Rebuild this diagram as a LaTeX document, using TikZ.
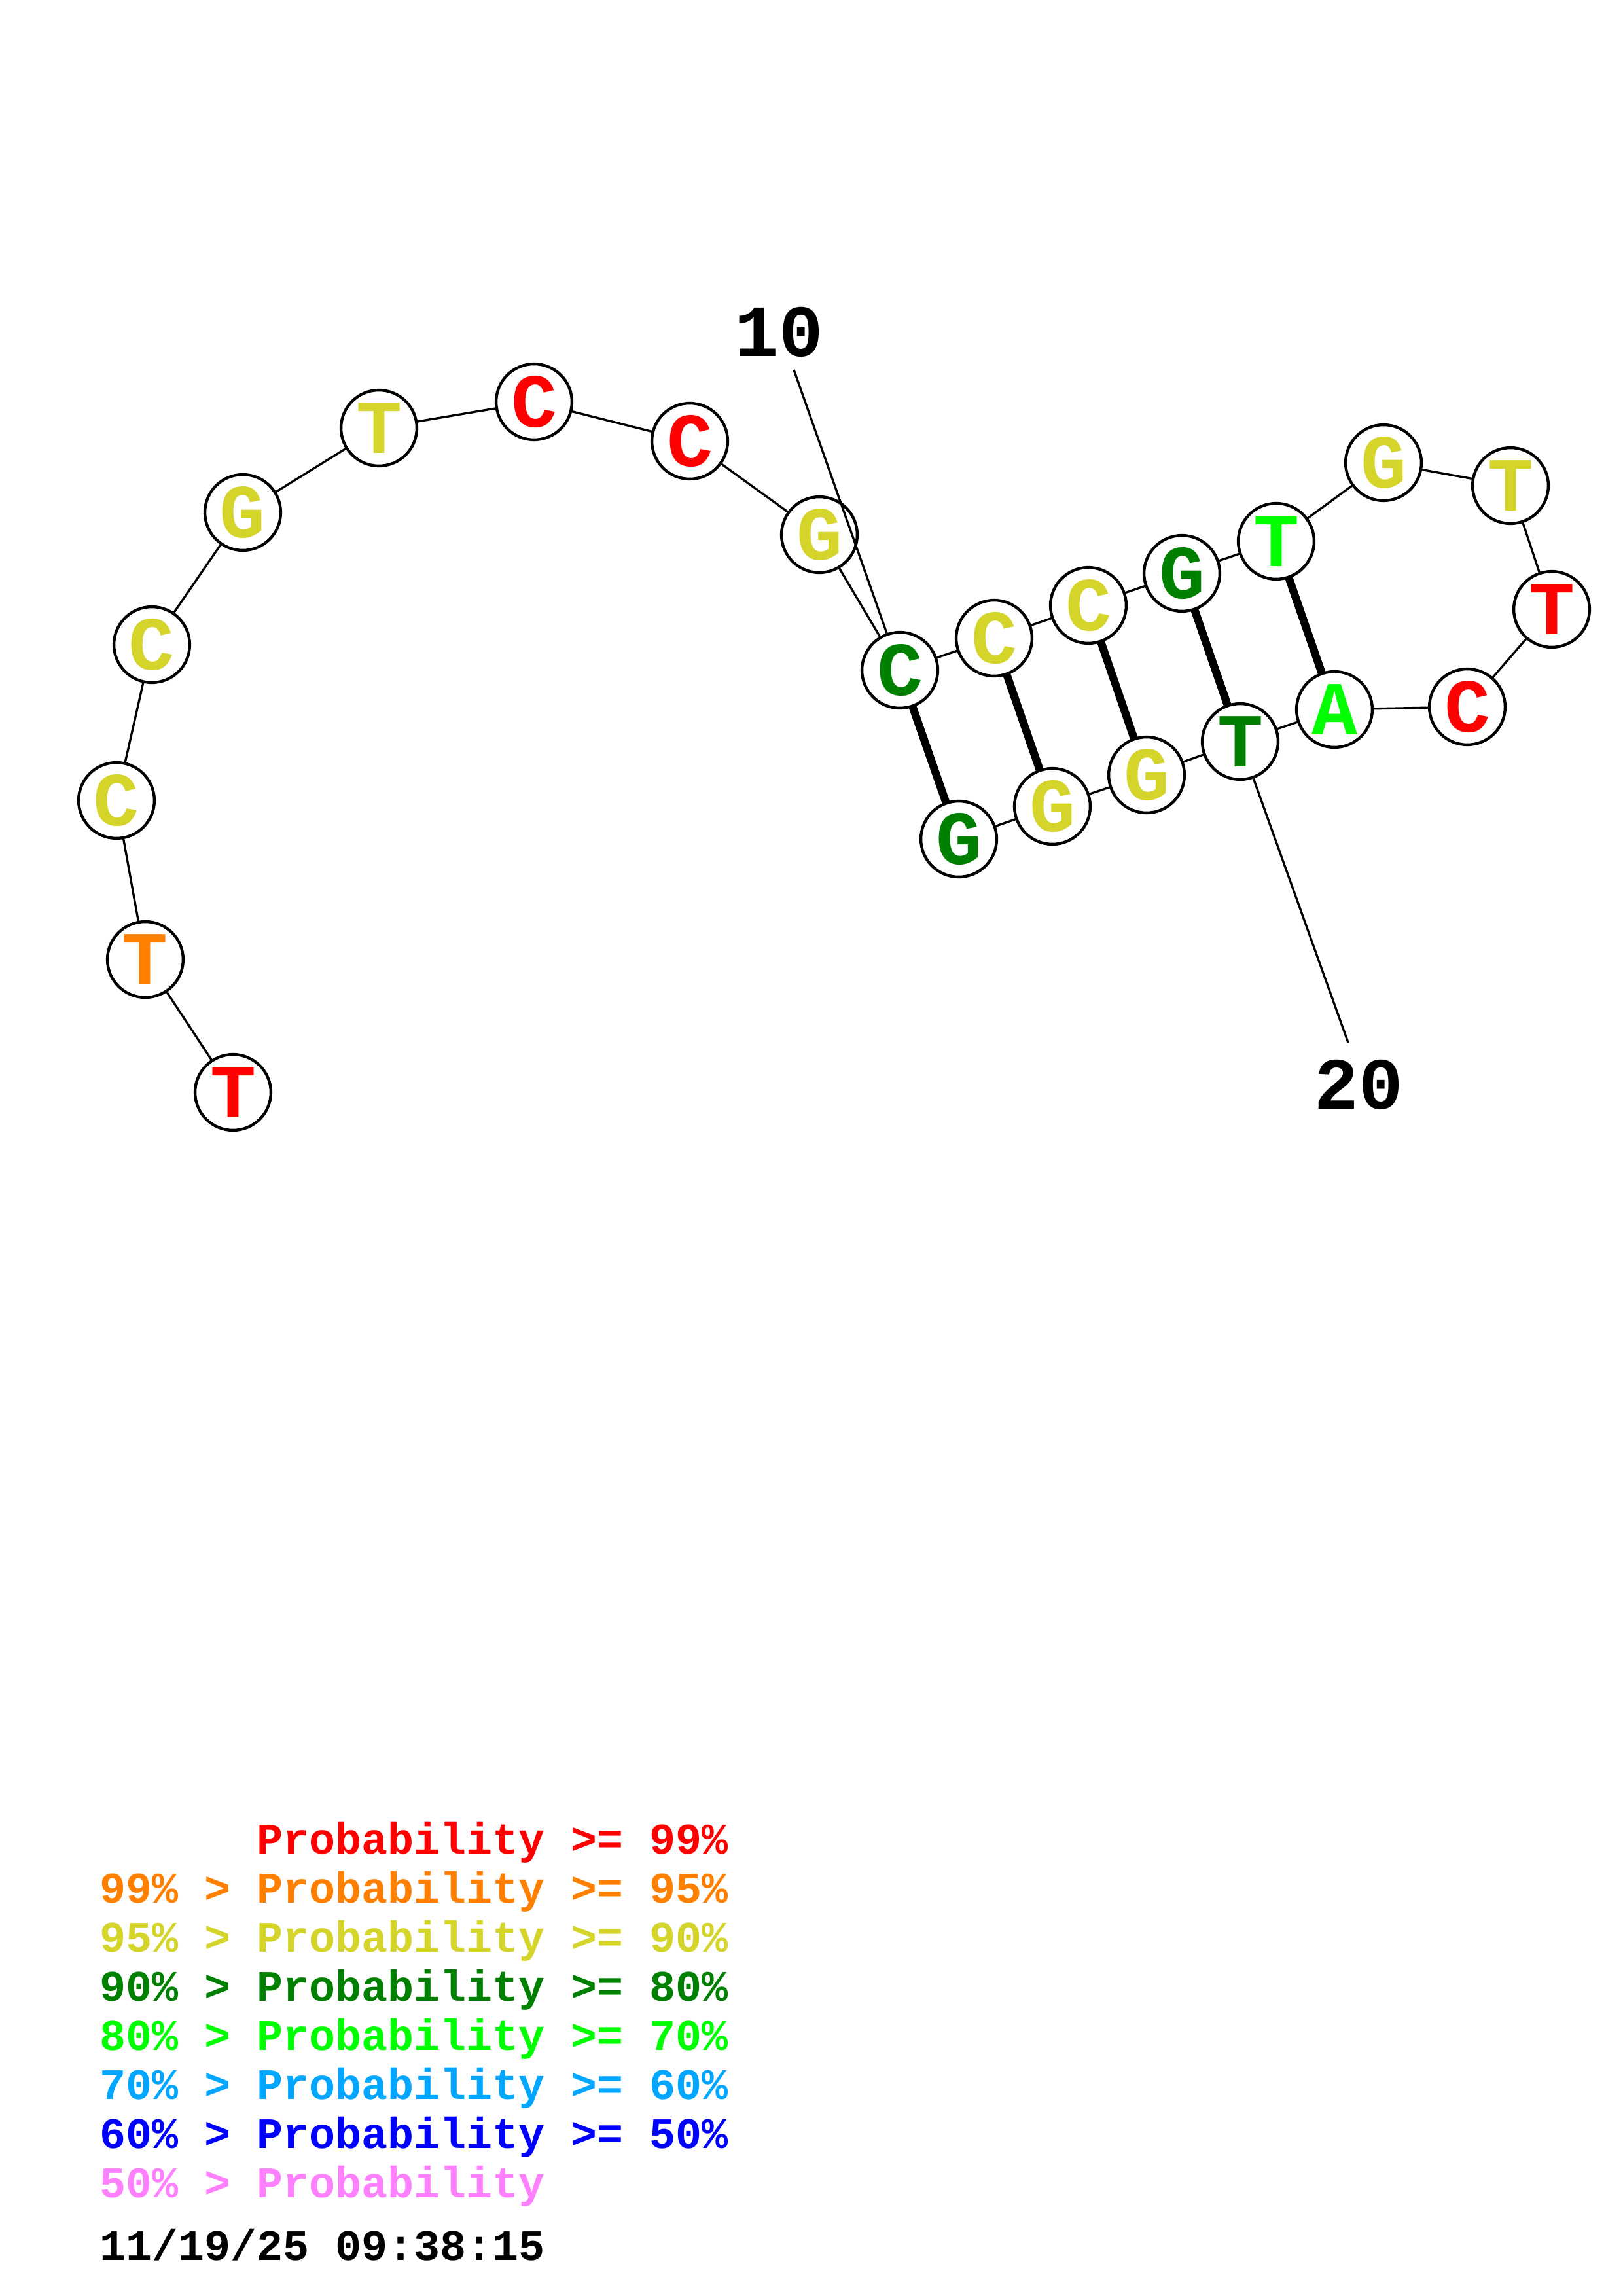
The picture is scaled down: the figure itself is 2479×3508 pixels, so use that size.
\documentclass[tikz,border=0pt]{standalone}
\usepackage{fontspec}
\newfontfamily\cour{Liberation Mono}
\definecolor{pred}{RGB}{255,0,0}
\definecolor{porange}{RGB}{255,128,0}
\definecolor{pyellow}{RGB}{212,212,42}
\definecolor{pdkgreen}{RGB}{0,128,0}
\definecolor{plime}{RGB}{0,255,0}
\definecolor{pltblue}{RGB}{0,166,255}
\definecolor{pblue}{RGB}{0,0,255}
\definecolor{ppink}{RGB}{255,128,255}
\pgfdeclarelayer{bg}
\pgfsetlayers{bg,main}
\tikzset{
  base/.style={circle, draw=black, line width=1.05pt, fill=white, minimum size=27.8pt, inner sep=0pt,
    font=\cour\bfseries\fontsize{28}{28}\selectfont},
  bb/.style={line width=0.8pt, black},
  pair/.style={line width=2.9pt, black},
  numlabel/.style={anchor=base, inner sep=0pt, font=\cour\bfseries\fontsize{27}{27}\selectfont},
  legend/.style={anchor=base west, inner sep=0pt, font=\cour\bfseries\fontsize{16}{16}\selectfont},
}
\begin{document}
\begin{tikzpicture}[x=0.24pt, y=-0.24pt]
\useasboundingbox (0,0) rectangle (2479,3508);
% nucleotides
\node[base, text=pred]     (n1)  at (356,1669) {T};
\node[base, text=porange]  (n2)  at (222,1466) {T};
\node[base, text=pyellow]  (n3)  at (178,1223) {C};
\node[base, text=pyellow]  (n4)  at (232,985)  {C};
\node[base, text=pyellow]  (n5)  at (371,783)  {G};
\node[base, text=pyellow]  (n6)  at (579,654)  {T};
\node[base, text=pred]     (n7)  at (816,614)  {C};
\node[base, text=pred]     (n8)  at (1054,674) {C};
\node[base, text=pyellow]  (n9)  at (1252,817) {G};
\node[base, text=pdkgreen] (n10) at (1375,1024) {C};
\node[base, text=pyellow]  (n11) at (1519,975) {C};
\node[base, text=pyellow]  (n12) at (1663,925) {C};
\node[base, text=pdkgreen] (n13) at (1806,876) {G};
\node[base, text=plime]    (n14) at (1950,827) {T};
\node[base, text=pyellow]  (n15) at (2114,707) {G};
\node[base, text=pyellow]  (n16) at (2308,742) {T};
\node[base, text=pred]     (n17) at (2371,931) {T};
\node[base, text=pred]     (n18) at (2242,1080) {C};
\node[base, text=plime]    (n19) at (2039,1084) {A};
\node[base, text=pdkgreen] (n20) at (1895,1133) {T};
\node[base, text=pyellow]  (n21) at (1752,1184) {G};
\node[base, text=pyellow]  (n22) at (1608,1232) {G};
\node[base, text=pdkgreen] (n23) at (1465,1282) {G};
% number labels
\node[numlabel] (l10) at (1190,545) {10};
\node[numlabel] (l20) at (2076,1694) {20};
\coordinate (c10) at (1213,565);
\coordinate (c20) at (2060,1593);
\begin{pgfonlayer}{bg}
  \foreach \a/\b in {1/2,2/3,3/4,4/5,5/6,6/7,7/8,8/9,9/10,10/11,11/12,12/13,13/14,14/15,15/16,16/17,17/18,18/19,19/20,20/21,21/22,22/23}
    \draw[bb] (n\a.center) -- (n\b.center);
  \foreach \a/\b in {10/23,11/22,12/21,13/20,14/19}
    \draw[pair] (n\a.center) -- (n\b.center);
\end{pgfonlayer}
\draw[bb] (c10) -- (n10);
\draw[bb] (n20) -- (c20);
% legend
\node[legend, text=pred]     (g1) at (152,2832) {\hphantom{99\% > }Probability >= 99\%};
\node[legend, text=porange]  (g2) at (152,2907) {99\% > Probability >= 95\%};
\node[legend, text=pyellow]  (g3) at (152,2982) {95\% > Probability >= 90\%};
\node[legend, text=pdkgreen] (g4) at (152,3057) {90\% > Probability >= 80\%};
\node[legend, text=plime]    (g5) at (152,3132) {80\% > Probability >= 70\%};
\node[legend, text=pltblue]  (g6) at (152,3207) {70\% > Probability >= 60\%};
\node[legend, text=pblue]    (g7) at (152,3282) {60\% > Probability >= 50\%};
\node[legend, text=ppink]    (g8) at (152,3357) {50\% > Probability};
\node[legend, text=black]    (dt) at (152,3453) {11/19/25 09:38:15};
\end{tikzpicture}
\end{document}
